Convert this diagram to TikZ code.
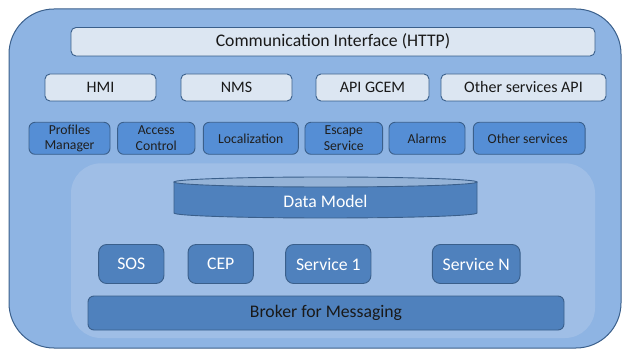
\documentclass[tikz,border=0pt]{standalone}
\usepackage{fontspec}
\setmainfont{Carlito}
\usetikzlibrary{positioning}

\definecolor{edgeblue}{HTML}{3A5F8B}
\definecolor{outerblue}{HTML}{8EB4E3}
\definecolor{innerblue}{HTML}{9FBEE6}
\definecolor{paleblue}{HTML}{DCE6F2}
\definecolor{midblue}{HTML}{558ED5}
\definecolor{deepblue}{HTML}{4F81BD}
\definecolor{lidblue}{HTML}{95B3D7}

\tikzset{
  apibox/.style={draw=edgeblue, line width=0.9pt, fill=paleblue, rounded corners=5pt,
    inner sep=0pt, text=black!90, font=\fontsize{16}{18}\selectfont},
  svcbox/.style={draw=edgeblue, line width=0.9pt, fill=midblue, rounded corners=6pt,
    inner sep=0pt, align=center, minimum height=32pt, text=black!88,
    font=\fontsize{13.7}{15.5}\selectfont},
  corebox/.style={draw=edgeblue, line width=0.9pt, fill=deepblue, rounded corners=8pt,
    inner sep=0pt, minimum height=39pt, text=white, font=\fontsize{17.7}{20}\selectfont}
}

\begin{document}
\begin{tikzpicture}[x=1pt,y=-1pt]
\useasboundingbox (0,0) rectangle (622,350);

% Platform and inner core
\draw[draw=edgeblue, line width=1pt, fill=outerblue, rounded corners=45pt] (9,9) rectangle (621,348);
\fill[innerblue, rounded corners=30pt] (71,163.3) rectangle (595,338);

% Communication interface
\node[apibox, minimum width=524pt, minimum height=28.5pt, font=\fontsize{17.7}{20}\selectfont]
  (comm) at (333,41.75) {Communication Interface (HTTP)};

% API row
\foreach \name/\x/\w/\txt in {
    hmi/100.5/111/HMI,
    nms/236.5/111/NMS,
    gcem/372.5/113/API GCEM,
    otherapi/523.5/165/Other services API
} {
    \node[apibox, minimum width=\w*1pt, minimum height=27pt] (\name) at (\x,87.5) {\txt};
}

% Services row
\foreach \name/\x/\w/\txt in {
    profiles/69.5/81/Profiles\\Manager,
    access/156.3/77.3/Access\\Control,
    local/250.8/95/Localization,
    escape/343.8/77.7/Escape\\Service,
    alarms/427/76/Alarms,
    othersvc/529.2/111.7/Other services
} {
    \node[svcbox, minimum width=\w*1pt] (\name) at (\x,138.3) {\txt};
}

% Data model cylinder
\draw[draw=edgeblue, line width=0.9pt, fill=deepblue]
  (174,182) -- (174,213) arc[start angle=180, end angle=360, x radius=151.5pt, y radius=5pt]
  -- (477,182);
\draw[draw=edgeblue, line width=0.9pt, fill=lidblue] (325.5,182) ellipse[x radius=151.5pt, y radius=5pt];
\node[text=white, font=\fontsize{17.7}{20}\selectfont] (datamodel) at (325.5,201.5) {Data Model};

% Core components
\foreach \name/\x/\w/\txt in {
    sos/131.3/65.3/SOS,
    cep/220.7/65.3/CEP,
    svcone/328.3/85.3/Service 1,
    svcn/476.2/87.7/Service N
} {
    \node[corebox, minimum width=\w*1pt] (\name) at (\x,264) {\txt};
}

\node[corebox, rounded corners=6pt, minimum width=476pt, minimum height=34pt, text=black!90]
  (broker) at (326,313) {Broker for Messaging};
\end{tikzpicture}
\end{document}
